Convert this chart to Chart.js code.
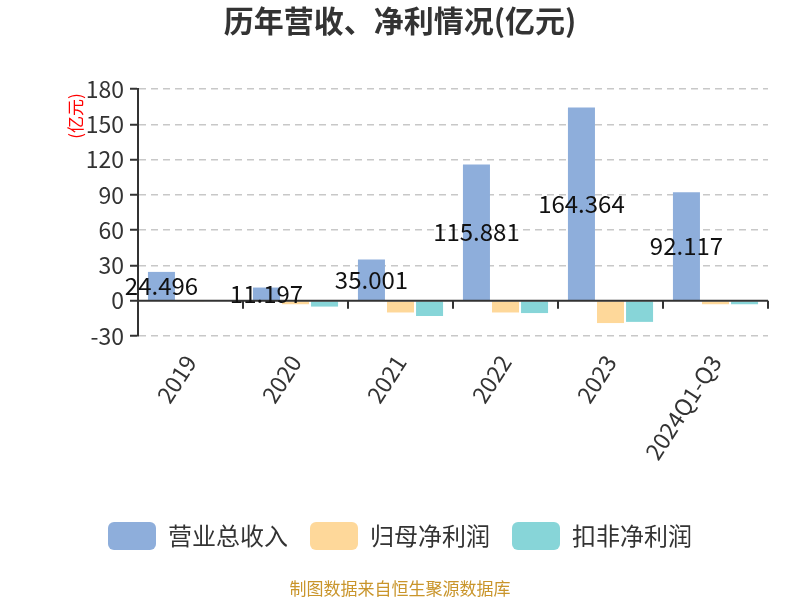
<!DOCTYPE html>
<html>
<head>
<meta charset="utf-8">
<script src="https://cdn.jsdelivr.net/npm/chart.js@4.4.0/dist/chart.umd.min.js"></script>
<style>
  html, body { margin: 0; padding: 0; background: #fff; }
  #wrap { width: 800px; height: 600px; }
</style>
</head>
<body>
<div id="wrap"><canvas id="chart" width="800" height="600"></canvas></div>
<script>
// ---------------- DATA ----------------
const years = ["2019", "2020", "2021", "2022", "2023", "2024Q1-Q3"];
const revenue = [24.496, 11.197, 35.001, 115.881, 164.364, 92.117];
const netProfit = [-0.8, -3, -10, -10, -19, -3];
const deductedProfit = [0, -5, -13, -10.5, -18, -3];
const seriesNames = ["营业总收入", "归母净利润", "扣非净利润"];
const yTicks = [-30, 0, 30, 60, 90, 120, 150, 180];

const FONT = "'Noto Sans CJK SC', 'Noto Sans', sans-serif";

// ---------------- PLUGINS ----------------
const extras = {
  id: "extras",
  afterDatasetsDraw(chart) {
    const { ctx, chartArea, scales } = chart;
    const y0 = scales.y.getPixelForValue(0);
    ctx.save();
    // zero line with category ticks
    ctx.strokeStyle = "#333";
    ctx.lineWidth = 2;
    ctx.beginPath();
    ctx.moveTo(chartArea.left, y0);
    ctx.lineTo(chartArea.right, y0);
    const n = years.length;
    const step = (chartArea.right - chartArea.left) / n;
    for (let i = 0; i <= n; i++) {
      const x = Math.round(scales.x.getPixelForValue(i) - step / 2);
      ctx.moveTo(x, y0);
      ctx.lineTo(x, y0 + 8);
    }
    ctx.stroke();

    // revenue labels centred on bars
    ctx.fillStyle = "#111";
    ctx.font = "24px " + FONT;
    ctx.textAlign = "center";
    ctx.textBaseline = "middle";
    chart.getDatasetMeta(0).data.forEach((bar, i) => {
      ctx.fillText(String(revenue[i]), bar.x, (bar.y + bar.base) / 2);
    });

    // unit label
    ctx.save();
    ctx.translate(76, 116);
    ctx.rotate(-Math.PI / 2);
    ctx.fillStyle = "#ff0000";
    ctx.font = "17px " + FONT;
    ctx.fillText("(亿元)", 0, 0);
    ctx.restore();

    // source
    ctx.fillStyle = "#c9952b";
    ctx.font = "17px " + FONT;
    ctx.fillText("制图数据来自恒生聚源数据库", 400, 589);
    ctx.restore();
  }
};

// ---------------- CHART ----------------
new Chart(document.getElementById("chart"), {
  type: "bar",
  data: {
    labels: years,
    datasets: [
      { label: seriesNames[0], data: revenue, backgroundColor: "#8eaedb" },
      { label: seriesNames[1], data: netProfit, backgroundColor: "#fed89a" },
      { label: seriesNames[2], data: deductedProfit, backgroundColor: "#87d5d8" }
    ]
  },
  options: {
    responsive: false,
    animation: false,
    layout: { padding: { left: 32, right: 32, top: 0, bottom: 40 } },
    datasets: { bar: { categoryPercentage: 0.83, barPercentage: 0.93 } },
    scales: {
      x: {
        grid: { display: false },
        border: { display: false },
        ticks: {
          color: "#333",
          font: { family: FONT, size: 23 },
          minRotation: 57,
          maxRotation: 57,
          padding: 6
        },
        afterFit(scale) { scale.height = 164; }
      },
      y: {
        min: -30,
        max: 180,
        afterBuildTicks(scale) { scale.ticks = yTicks.map(v => ({ value: v })); },
        afterFit(scale) { scale.width = 106; },
        grid: {
          color: ctx => (ctx.tick && ctx.tick.value === 0 ? "rgba(0,0,0,0)" : "#c8c8c8"),
          lineWidth: 1.5,
          tickColor: "#333",
          tickWidth: 2,
          tickLength: 8,
          tickBorderDash: []
        },
        border: { display: true, color: "#333", width: 2, dash: [7, 5] },
        ticks: {
          color: "#333",
          font: { family: FONT, size: 23 },
          padding: 6
        }
      }
    },
    plugins: {
      title: {
        display: true,
        text: "历年营收、净利情况(亿元)",
        color: "#333",
        font: { family: FONT, size: 30, weight: "bold" },
        padding: { top: 3, bottom: 50 }
      },
      legend: {
        position: "bottom",
        labels: {
          color: "#333",
          font: { family: FONT, size: 24 },
          boxWidth: 48,
          boxHeight: 28,
          useBorderRadius: true,
          borderRadius: 6,
          padding: 22
        }
      },
      tooltip: { enabled: false }
    }
  },
  plugins: [extras]
});
</script>
</body>
</html>
